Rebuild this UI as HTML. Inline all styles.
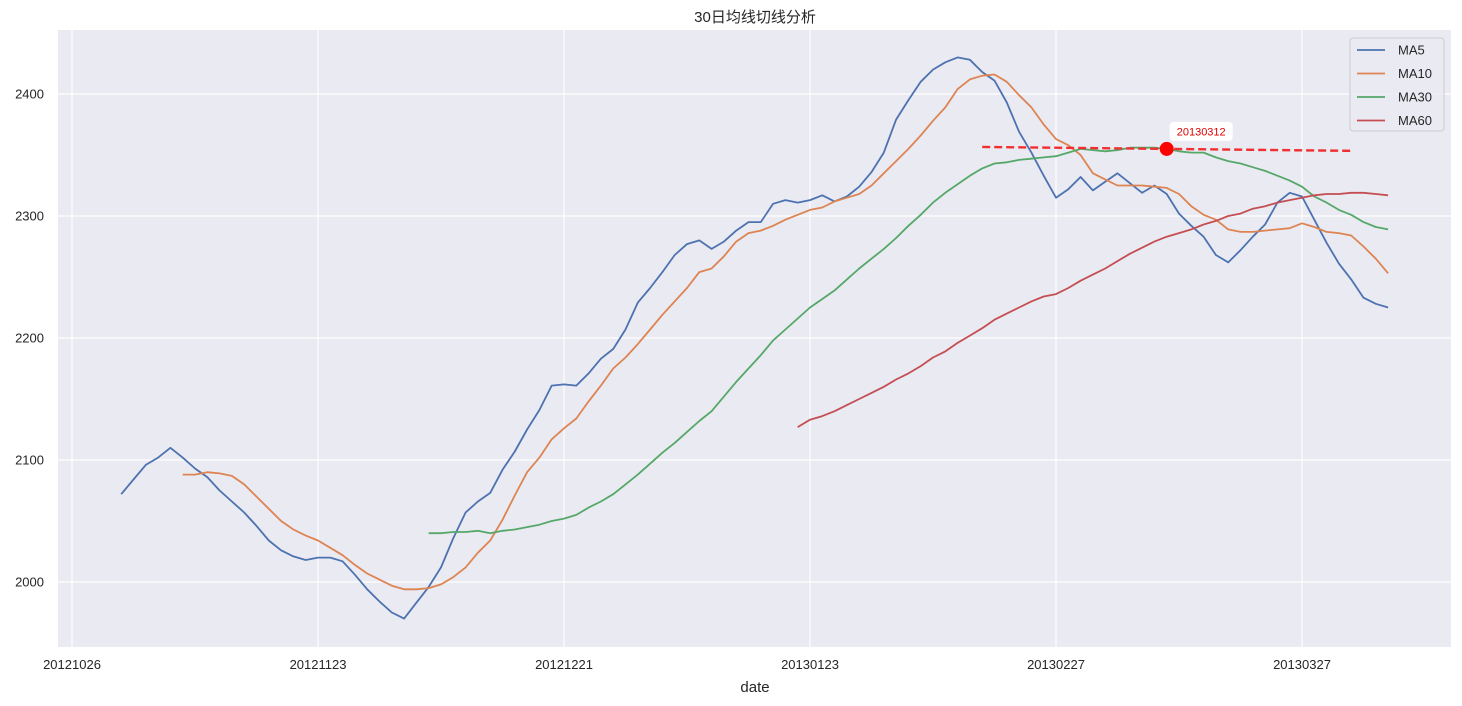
<!DOCTYPE html>
<html><head><meta charset="utf-8">
<style>
body{margin:0;background:#fff;}
svg{display:block;font-family:"Liberation Sans","DejaVu Sans","Noto Sans CJK SC",sans-serif;}
</style></head>
<body>
<svg id="chart" width="1462" height="706" viewBox="0 0 1462 706">
<rect x="58" y="30" width="1393" height="617" fill="#eaeaf2"/>
<g id="grid"></g>
<g id="series"></g>
<g id="axes"></g>
<text x="755" y="22" text-anchor="middle" font-size="15" fill="#262626">30日均线切线分析</text>
<text x="755" y="692" text-anchor="middle" font-size="15" fill="#262626">date</text>
<g>
<rect x="1350" y="38" width="94" height="93" rx="3" fill="#eaeaf2" fill-opacity="0.8" stroke="#cccccc"/>
<g id="legend-items"></g>
</g>
</svg>
<script>
const tickIdx=[0,20,40,60,80,100];
const tickLabels=["20121026","20121123","20121221","20130123","20130227","20130327"];
const yTicks=[2000,2100,2200,2300,2400];
const ma5Start=4;
const ma5=[2072,2084,2096,2102,2110,2102,2093,2086,2075,2066,2057,2046,2034,2026,2021,2018,2020,2020,2017,2006,1994,1984,1975,1970,1983,1996,2012,2036,2057,2066,2073,2092,2107,2125,2141,2161,2162,2161,2171,2183,2191,2207,2229,2241,2254,2268,2277,2280,2273,2279,2288,2295,2295,2310,2313,2311,2313,2317,2312,2316,2324,2336,2352,2379,2395,2410,2420,2426,2430,2428,2418,2411,2393,2369,2352,2333,2315,2322,2332,2321,2328,2335,2327,2319,2325,2318,2302,2292,2283,2268,2262,2272,2283,2293,2311,2319,2316,2297,2278,2261,2248,2233,2228,2225];
const ma10Start=9;
const ma10=[2088,2088,2090,2089,2087,2080,2070,2060,2050,2043,2038,2034,2028,2022,2014,2007,2002,1997,1994,1994,1995,1998,2004,2012,2024,2034,2051,2071,2090,2102,2117,2126,2134,2148,2161,2175,2184,2195,2207,2219,2230,2241,2254,2257,2267,2279,2286,2288,2292,2297,2301,2305,2307,2312,2315,2318,2325,2335,2345,2355,2366,2378,2389,2404,2412,2415,2416,2410,2399,2389,2375,2363,2358,2350,2335,2330,2325,2325,2325,2324,2323,2318,2308,2301,2297,2289,2287,2287,2288,2289,2290,2294,2291,2287,2286,2284,2275,2265,2253];
const ma30Start=29;
const ma30=[2040,2040,2041,2041,2042,2040,2042,2043,2045,2047,2050,2052,2055,2061,2066,2072,2080,2088,2097,2106,2114,2123,2132,2140,2152,2164,2175,2186,2198,2207,2216,2225,2232,2239,2248,2257,2265,2273,2282,2292,2301,2311,2319,2326,2333,2339,2343,2344,2346,2347,2348,2349,2352,2355,2354,2353,2354,2356,2356,2356,2355,2353,2352,2352,2348,2345,2343,2340,2337,2333,2329,2324,2316,2311,2305,2301,2295,2291,2289];
const ma60Start=59;
const ma60=[2127,2133,2136,2140,2145,2150,2155,2160,2166,2171,2177,2184,2189,2196,2202,2208,2215,2220,2225,2230,2234,2236,2241,2247,2252,2257,2263,2269,2274,2279,2283,2286,2289,2293,2296,2300,2302,2306,2308,2311,2313,2315,2317,2318,2318,2319,2319,2318,2317];
const tangentIdx=89, tangentVal=2355, tangentSlope=-0.107, tangentHalf=15;
const tangentLabel="20130312";

const NS="http://www.w3.org/2000/svg";
const X=i=>72+12.3*i;
const Y=v=>582-(v-2000)*1.22;
function mk(tag,attrs,parent){const e=document.createElementNS(NS,tag);for(const k in attrs)e.setAttribute(k,attrs[k]);parent.appendChild(e);return e;}
const grid=document.getElementById('grid'),axes=document.getElementById('axes'),series=document.getElementById('series');
tickIdx.forEach((t,k)=>{
  const l=mk('line',{x1:X(t),x2:X(t),y1:30,y2:647,stroke:'#fff','stroke-width':1.2},grid);
  
  
  const tx=mk('text',{x:X(t),y:669,'text-anchor':'middle','font-size':13,fill:'#262626'},axes);
  tx.textContent=tickLabels[k];
  
  
});
yTicks.forEach(v=>{
  const l=mk('line',{x1:58,x2:1451,y1:Y(v),y2:Y(v),stroke:'#fff','stroke-width':1.2},grid);
  
  
  const tx=mk('text',{x:44,y:Y(v)+4.5,'text-anchor':'end','font-size':13,fill:'#262626'},axes);
  tx.textContent=v;
  
  
});
const defs=[["MA5",ma5,ma5Start,"#4c72b0"],["MA10",ma10,ma10Start,"#dd8452"],["MA30",ma30,ma30Start,"#55a868"],["MA60",ma60,ma60Start,"#c44e52"]];
const leg=document.getElementById('legend-items');
defs.forEach((d,k)=>{
  const pts=d[1].map((v,i)=>X(i+d[2]).toFixed(1)+','+Y(v).toFixed(1)).join(' ');
  const p=mk('polyline',{points:pts,fill:'none',stroke:d[3],'stroke-width':1.8,'stroke-linejoin':'round'},series);
  
  
  const yy=50+k*23.5;
  const ll=mk('line',{x1:1357,x2:1385,y1:yy,y2:yy,stroke:d[3],'stroke-width':1.8},leg);
  
  
  const lt=mk('text',{x:1398,y:yy+4.5,'font-size':13,fill:'#262626'},leg);
  lt.textContent=d[0];
  
  
});
const i0=tangentIdx-tangentHalf,i1=tangentIdx+tangentHalf;
const tl=mk('line',{x1:X(i0),x2:X(i1),y1:Y(tangentVal-tangentSlope*tangentHalf),y2:Y(tangentVal+tangentSlope*tangentHalf),stroke:'#f03030','stroke-width':2.4,'stroke-dasharray':'8,4'},series);


const dot=mk('circle',{cx:X(tangentIdx),cy:Y(tangentVal),r:7,fill:'#ff0000'},series);


const bx=mk('rect',{x:X(tangentIdx)+3,y:Y(tangentVal)-27,width:63,height:19,rx:4,fill:'#fff'},series);


const at=mk('text',{x:X(tangentIdx)+34.5,y:Y(tangentVal)-13.5,'text-anchor':'middle','font-size':11,fill:'#e00000'},series);
at.textContent=tangentLabel;


</script>
</body></html>
